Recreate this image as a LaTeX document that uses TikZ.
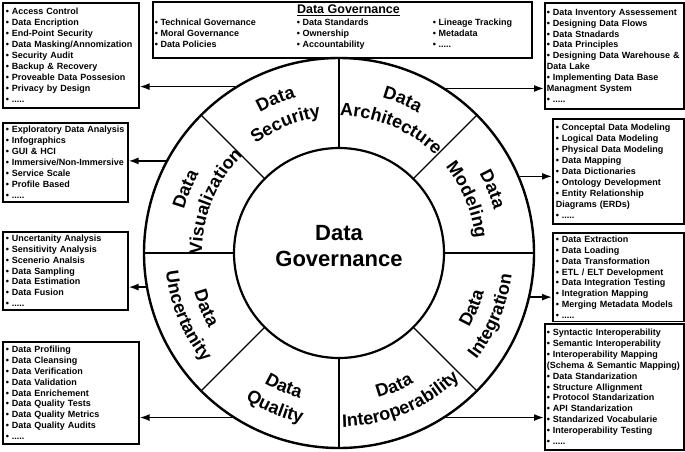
\documentclass[tikz,border=0pt]{standalone}
\usepackage{fontspec}
\setmainfont{Liberation Sans}
\usetikzlibrary{arrows.meta,positioning,decorations.text}
\newcommand{\sectorfont}{\bfseries\fontsize{18pt}{18pt}\selectfont}

\begin{document}
\begin{tikzpicture}[x=1pt,y=1pt,>={Latex[length=10pt,width=7pt]},thick]
\tikzstyle{listbox}=[rectangle,draw=black,line width=1.6pt,inner sep=3pt,anchor=north west,align=left,font=\bfseries\fontsize{9pt}{10.9pt}\selectfont]
\tikzstyle{dgcol}=[anchor=north west,inner sep=0pt,align=left,font=\bfseries\fontsize{9pt}{11.2pt}\selectfont]
\tikzstyle{wheel}=[circle,draw=black,fill=white,line width=2.4pt,inner sep=0pt]
\tikzstyle{spoke}=[line width=1.4pt]
\tikzstyle{link}=[->,line width=1.6pt]
\tikzstyle{sector_text}=[decorate,decoration={text along path,text align=center}]

\useasboundingbox (0,0) rectangle (685,451);

\node[wheel,minimum size=390pt] (outer) at (339,198) {};
\node[wheel,minimum size=210pt,line width=2.2pt] (core) at (339,198) {};
\node[font=\bfseries\fontsize{22pt}{26pt}\selectfont,align=center] (dglabel) at ([yshift=7pt]core.center) {Data\\Governance};

\draw[spoke] (core.0) -- (outer.0);
\draw[spoke] (core.45) -- (outer.45);
\draw[spoke] (core.90) -- (outer.90);
\draw[spoke] (core.135) -- (outer.135);
\draw[spoke] (core.180) -- (outer.180);
\draw[spoke] (core.225) -- (outer.225);
\draw[spoke] (core.270) -- (outer.270);
\draw[spoke] (core.315) -- (outer.315);

\begin{scope}[shift={(outer.center)}]
% upper half, read clockwise
\path[sector_text,decoration={text={|\sectorfont|Data}}] (152.5:161pt) arc[start angle=152.5,end angle=72.5,radius=161pt];
\path[sector_text,decoration={text={|\sectorfont|Security}}] (152.5:137pt) arc[start angle=152.5,end angle=72.5,radius=137pt];
\path[sector_text,decoration={text={|\sectorfont|Data}}] (107.5:161pt) arc[start angle=107.5,end angle=27.5,radius=161pt];
\path[sector_text,decoration={text={|\sectorfont|Architecture}}] (107.5:137pt) arc[start angle=107.5,end angle=27.5,radius=137pt];
\path[sector_text,decoration={text={|\sectorfont|Data}}] (62.5:161pt) arc[start angle=62.5,end angle=-17.5,radius=161pt];
\path[sector_text,decoration={text={|\sectorfont|Modeling}}] (62.5:137pt) arc[start angle=62.5,end angle=-17.5,radius=137pt];
\path[sector_text,decoration={text={|\sectorfont|Data}}] (197.5:161pt) arc[start angle=197.5,end angle=117.5,radius=161pt];
\path[sector_text,decoration={text={|\sectorfont|Visualization}}] (197.5:137pt) arc[start angle=197.5,end angle=117.5,radius=137pt];
% lower half, read counterclockwise
\path[sector_text,decoration={text={|\sectorfont|Data}}] (-62.5:150pt) arc[start angle=-62.5,end angle=17.5,radius=150pt];
\path[sector_text,decoration={text={|\sectorfont|Integration}}] (-62.5:174pt) arc[start angle=-62.5,end angle=17.5,radius=174pt];
\path[sector_text,decoration={text={|\sectorfont|Data}}] (-107.5:150pt) arc[start angle=-107.5,end angle=-27.5,radius=150pt];
\path[sector_text,decoration={text={|\sectorfont|Interoperability}}] (-107.5:174pt) arc[start angle=-107.5,end angle=-27.5,radius=174pt];
\path[sector_text,decoration={text={|\sectorfont|Data}}] (-152.5:150pt) arc[start angle=-152.5,end angle=-72.5,radius=150pt];
\path[sector_text,decoration={text={|\sectorfont|Quality}}] (-152.5:174pt) arc[start angle=-152.5,end angle=-72.5,radius=174pt];
\path[sector_text,decoration={text={|\sectorfont|Data}}] (-197.5:150pt) arc[start angle=-197.5,end angle=-117.5,radius=150pt];
\path[sector_text,decoration={text={|\sectorfont|Uncertanity}}] (-197.5:174pt) arc[start angle=-197.5,end angle=-117.5,radius=174pt];
\end{scope}

% top box
\node[rectangle,draw=black,line width=1.6pt,minimum width=379pt,minimum height=56pt,anchor=north west,inner sep=0pt] (dgbox) at (152,450) {};
\node[font=\bfseries\fontsize{12.5pt}{12.5pt}\selectfont,anchor=base,inner sep=0pt] (dgtitle) at (348.5,437.7) {\underline{Data Governance}};
\node[dgcol] (dgcol1) at (154.5,432.7) {• Technical Governance\\• Moral Governance\\• Data Policies};
\node[dgcol] (dgcol2) at (296.5,432.7) {• Data Standards\\• Ownership\\• Accountability};
\node[dgcol] (dgcol3) at (432.5,432.7) {• Lineage Tracking\\• Metadata\\• .....};

% left column
\node[listbox,text width=130pt,minimum height=105pt] (secbox) at (2,449) {• Access Control\\• Data Encription\\• End-Point Security\\• Data Masking/Annomization\\• Security Audit\\• Backup \& Recovery\\• Proveable Data Possesion\\• Privacy by Design\\• .....};
\node[listbox,text width=119pt,minimum height=79pt] (visbox) at (2,329) {• Exploratory Data Analysis\\• Infographics\\• GUI \& HCI\\• Immersive/Non-Immersive\\• Service Scale\\• Profile Based\\• .....};
\node[listbox,text width=119pt,minimum height=78pt] (uncbox) at (2,220) {• Uncertanity Analysis\\• Sensitivity Analysis\\• Scenerio Analsis\\• Data Sampling\\• Data Estimation\\• Data Fusion\\• .....};
\node[listbox,text width=130pt,minimum height=102pt] (qualbox) at (2,110) {• Data Profiling\\• Data Cleansing\\• Data Verification\\• Data Validation\\• Data Enrichement\\• Data Quality Tests\\• Data Quality Metrics\\• Data Quality Audits\\• .....};

% right column
\node[listbox,inner xsep=2pt,text width=135pt,minimum height=106pt] (archbox) at (544,449) {• Data Inventory Assessement\\• Designing Data Flows\\• Data Stnadards\\• Data Principles\\• Designing Data Warehouse \&\\Data Lake\\• Implementing Data Base\\Managment System\\• .....};
\node[listbox,text width=125pt,minimum height=105pt] (modbox) at (552,333) {• Conceptal Data Modeling\\• Logical Data Modeling\\• Physical Data Modeling\\• Data Mapping\\• Data Dictionaries\\• Ontology Development\\• Entity Relationship\\Diagrams (ERDs)\\• .....};
\node[listbox,text width=125pt,minimum height=87pt] (intbox) at (552,219) {• Data Extraction\\• Data Loading\\• Data Transformation\\• ETL / ELT Development\\• Data Integration Testing\\• Integration Mapping\\• Merging Metadata Models\\• .....};
\node[listbox,inner xsep=2pt,text width=135pt,minimum height=126pt] (interbox) at (544,128) {• Syntactic Interoperability\\• Semantic Interoperability\\• Interoperability Mapping\\(Schema \& Semantic Mapping)\\• Data Standarization\\• Structure Allignment\\• Protocol Standarization\\• API Standarization\\• Standarized Vocabularie\\• Interoperability Testing\\• .....};

% arrows from the wheel to the boxes
\draw[link] (outer.122.12) -- (outer.122.12 -| secbox.east);
\draw[link] (outer.57.88) -- (outer.57.88 -| archbox.west);
\draw[link] (outer.152) -- (outer.152 -| visbox.east);
\draw[link] (outer.23.45) -- (outer.23.45 -| modbox.west);
\draw[link] (outer.190.58) -- (outer.190.58 -| uncbox.east);
\draw[link] (outer.347.63) -- (outer.347.63 -| intbox.west);
\draw[link] (outer.237.33) -- (outer.237.33 -| qualbox.east);
\draw[link] (outer.303.2) -- (outer.303.2 -| interbox.west);
\end{tikzpicture}
\end{document}
